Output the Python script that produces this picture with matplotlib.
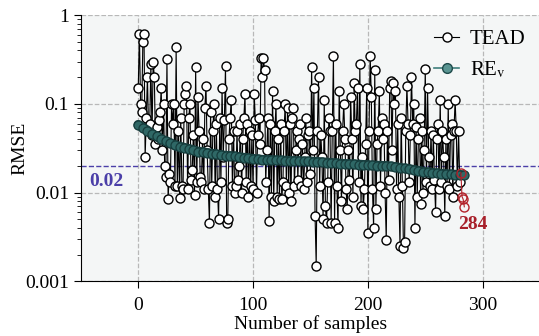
import numpy as np
import matplotlib
matplotlib.use('Agg')
import matplotlib.pyplot as plt

# === Data ===
tead_rmse = [
    0.15, 0.62, 0.1, 0.08, 0.5, 0.62, 0.025, 0.07, 0.2, 0.05,
    0.06, 0.28, 0.045, 0.3, 0.2, 0.035, 0.055, 0.04, 0.065, 0.08,
    0.15, 0.03, 0.1, 0.02, 0.015, 0.32, 0.0085, 0.016, 0.013, 0.1,
    0.06, 0.1, 0.012, 0.44, 0.012, 0.05, 0.0087, 0.07, 0.012, 0.011,
    0.1, 0.13, 0.16, 0.011, 0.07, 0.1, 0.014, 0.018, 0.045, 0.0093,
    0.26, 0.013, 0.12, 0.05, 0.015, 0.013, 0.04, 0.011, 0.09, 0.16,
    0.03, 0.011, 0.0045, 0.08, 0.012, 0.05, 0.1, 0.009, 0.06, 0.011,
    0.005, 0.07, 0.013, 0.15, 0.025, 0.065, 0.27, 0.0045, 0.005, 0.04,
    0.07, 0.11, 0.012, 0.05, 0.0098, 0.012, 0.05, 0.014, 0.02, 0.06,
    0.01, 0.04, 0.07, 0.13, 0.013, 0.06, 0.009, 0.05, 0.012, 0.045,
    0.011, 0.13, 0.065, 0.01, 0.045, 0.07, 0.035, 0.33, 0.2, 0.33,
    0.24, 0.013, 0.03, 0.07, 0.0048, 0.06, 0.009, 0.14, 0.008, 0.05,
    0.1, 0.009, 0.04, 0.0085, 0.06, 0.0085, 0.013, 0.05, 0.1, 0.012,
    0.09, 0.01, 0.06, 0.008, 0.07, 0.09, 0.012, 0.03, 0.05, 0.014,
    0.04, 0.06, 0.012, 0.035, 0.011, 0.025, 0.07, 0.013, 0.045, 0.05,
    0.016, 0.26, 0.03, 0.15, 0.0055, 0.0015, 0.05, 0.2, 0.012, 0.045,
    0.025, 0.005, 0.11, 0.007, 0.0045, 0.013, 0.07, 0.05, 0.0045, 0.05,
    0.35, 0.0045, 0.06, 0.012, 0.004, 0.14, 0.03, 0.008, 0.05, 0.1,
    0.04, 0.011, 0.0065, 0.03, 0.014, 0.12, 0.04, 0.009, 0.17, 0.05,
    0.06, 0.15, 0.013, 0.28, 0.007, 0.025, 0.0065, 0.011, 0.035, 0.15,
    0.0035, 0.05, 0.35, 0.12, 0.011, 0.004, 0.24, 0.0065, 0.035, 0.05,
    0.14, 0.012, 0.07, 0.04, 0.06, 0.01, 0.0029, 0.05, 0.014, 0.15,
    0.18, 0.03, 0.17, 0.1, 0.14, 0.011, 0.06, 0.009, 0.0025, 0.07,
    0.012, 0.0024, 0.0028, 0.05, 0.16, 0.06, 0.013, 0.045, 0.2, 0.06,
    0.1, 0.004, 0.055, 0.009, 0.04, 0.07, 0.0075, 0.05, 0.01, 0.03,
    0.25, 0.013, 0.15, 0.025, 0.012, 0.05, 0.011, 0.045, 0.014, 0.006,
    0.04, 0.06, 0.011, 0.11, 0.013, 0.05, 0.025, 0.0055, 0.04, 0.012,
    0.1, 0.011, 0.045, 0.06, 0.009, 0.05, 0.11, 0.05, 0.012, 0.05,
    0.013,
]
tead_samples = np.arange(len(tead_rmse))

# last few samples (highlighted in red)
final_samples = [281, 282, 283, 284]
final_rmse = [0.0168, 0.009, 0.0084, 0.0069]

# RE_v, read every 4 samples
rev_samples = np.arange(0, 285, 4)
rev_rmse = [
    0.058, 0.054, 0.050, 0.046, 0.043, 0.040, 0.038, 0.036, 0.034, 0.033,
    0.032, 0.031, 0.030, 0.029, 0.0285, 0.028, 0.0275, 0.027, 0.0265, 0.026,
    0.0258, 0.0255, 0.025, 0.0247, 0.0243, 0.024, 0.0237, 0.0234, 0.0233, 0.0232,
    0.0231, 0.023, 0.0229, 0.0228, 0.0227, 0.0226, 0.0225, 0.0224, 0.0223, 0.0222,
    0.022, 0.0218, 0.0216, 0.0214, 0.0212, 0.021, 0.0209, 0.0208, 0.0207, 0.0205,
    0.0203, 0.0202, 0.0201, 0.02, 0.0199, 0.0197, 0.0194, 0.019, 0.0187, 0.0184,
    0.018, 0.0176, 0.0172, 0.0169, 0.0167, 0.0165, 0.0163, 0.0161, 0.016, 0.0159,
    0.0158, 0.0157,
]

threshold = 0.02

# === Style ===
plt.rcParams['font.family'] = ['Liberation Serif', 'DejaVu Serif']
plt.rcParams['mathtext.fontset'] = 'stix'

fig = plt.figure(figsize=(5.39, 3.36), dpi=100)
ax = fig.add_axes([0.150, 0.163, 0.852, 0.792])
ax.set_facecolor('#f4f6f6')

ax.axhline(threshold, color='#4b3fa8', linestyle='--', linewidth=1.0, zorder=1)

ax.plot(tead_samples, tead_rmse, color='black', linewidth=0.8,
        marker='o', markersize=6.5, markerfacecolor='white',
        markeredgecolor='black', markeredgewidth=1.0, label='TEAD', zorder=3)

# thick dark band underneath the RE_v markers
ax.plot(rev_samples, rev_rmse, color='#1b4646', linewidth=7,
        solid_capstyle='round', zorder=4)
ax.plot(rev_samples, rev_rmse, color='#2a5e5d', linewidth=1.5,
        marker='o', markersize=6.5, markerfacecolor='#2f6866',
        markeredgecolor='#163c3c', markeredgewidth=0.9, zorder=4)
# legend entry with a lighter marker, as in the reference
ax.plot([], [], color='#3f7f7c', linewidth=1.2, marker='o', markersize=7,
        markerfacecolor='#5a9592', markeredgecolor='#1e4a4a',
        label=r'RE$_{\mathrm{v}}$')

ax.plot(final_samples, final_rmse, color='#b2222a', linewidth=0.8,
        marker='o', markersize=6.5, markerfacecolor='none',
        markeredgecolor='#b2222a', markeredgewidth=1.0, zorder=5)

ax.text(-28, 0.0133, '0.02', color='#4b3fa8', fontsize=14, fontweight='bold',
        ha='center', va='center')
ax.text(291, 0.0044, '284', color='#a8202a', fontsize=14, fontweight='bold',
        ha='center', va='center')

ax.set_yscale('log')
ax.set_xlim(-50, 350)
ax.set_ylim(0.001, 1)
ax.set_xticks([0, 100, 200, 300])
ax.set_yticks([0.001, 0.01, 0.1, 1])
ax.set_yticklabels(['0.001', '0.01', '0.1', '1'])

ax.grid(True, which='major', color='#b8b8b8', linestyle='--', linewidth=0.9)
ax.set_axisbelow(True)

ax.tick_params(axis='both', labelsize=14, direction='out', length=5)
ax.tick_params(axis='x', pad=6)
ax.tick_params(axis='y', which='minor', length=3)
ax.tick_params(axis='x', which='minor', bottom=False)

for side in ['top', 'right']:
    ax.spines[side].set_visible(False)

ax.set_xlabel('Number of samples', fontsize=14, labelpad=1)
ax.set_ylabel('RMSE', fontsize=14)
ax.yaxis.set_label_coords(-0.115, 0.5)

ax.legend(loc='upper right', frameon=False, fontsize=15, handlelength=1.2,
          borderaxespad=0.3, labelspacing=0.5, handletextpad=0.5)

plt.savefig('out.png', dpi=100)
plt.close()
